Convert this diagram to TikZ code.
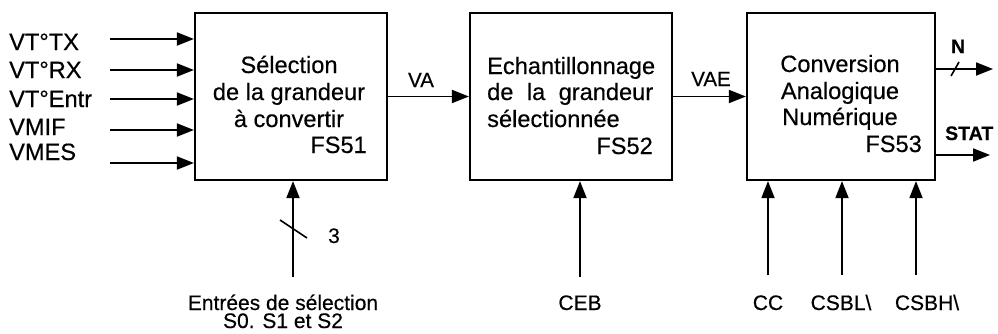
\documentclass[tikz,border=0pt]{standalone}
\usepackage{fontspec}
\setmainfont{Liberation Sans}[FakeBold=0.4]
\usetikzlibrary{arrows.meta}
\begin{document}
\begin{tikzpicture}[x=1pt,y=-1pt,
  blk/.style={draw,line width=2.2pt,minimum width=#1,minimum height=167pt,inner sep=0pt},
  arr/.style={line width=1.8pt,-{Triangle[length=17pt,width=13pt]}},
  slash/.style={line width=1.6pt},
  big/.style={font=\fontsize{23.6}{27}\selectfont,inner sep=0pt},
  sig/.style={font=\fontsize{20.5}{24}\selectfont,inner sep=0pt},
  lab/.style={font=\fontsize{21}{18}\selectfont,inner sep=0pt},
  bsig/.style={font=\fontsize{19.5}{23}\selectfont\bfseries,inner sep=0pt}]
\useasboundingbox (0,0) rectangle (998,333);
% boxes
\node[blk=192pt] (b1) at (291,96.5) {};
\node[blk=202pt] (b2) at (571,96.5) {};
\node[blk=188pt] (b3) at (841,96.5) {};
% box 1 text
\node[big,anchor=base] (t11) at (289,73) {Sélection};
\node[big,anchor=base] (t12) at (289,100) {de la grandeur};
\node[big,anchor=base] (t13) at (289,127) {à convertir};
\node[big,anchor=base east] (t14) at (367,153) {FS51};
% box 2 text
\node[big,anchor=base west] (t21) at (487,74) {Echantillonnage};
\node[big,anchor=base west] (t22) at (487,100) {\makebox[166pt][s]{de la grandeur}};
\node[big,anchor=base west] (t23) at (487,127) {sélectionnée};
\node[big,anchor=base east] (t24) at (653,154) {FS52};
% box 3 text
\node[big,anchor=base] (t31) at (840,72) {Conversion};
\node[big,anchor=base] (t32) at (840,99) {Analogique};
\node[big,anchor=base] (t33) at (840,125) {Numérique};
\node[big,anchor=base east] (t34) at (922,152) {FS53};
% inputs
\node[big,anchor=base west] (l1) at (9,50) {VT°TX};
\node[big,anchor=base west] (l2) at (9,78) {VT°RX};
\node[big,anchor=base west] (l3) at (9,107) {VT°Entr};
\node[big,anchor=base west] (l4) at (9,135) {VMIF};
\node[big,anchor=base west] (l5) at (9,160) {VMES};
\coordinate (i1) at (110,39);
\coordinate (i2) at (110,70);
\coordinate (i3) at (110,99);
\coordinate (i4) at (110,130);
\coordinate (i5) at (110,163);
\foreach \i in {1,...,5} \draw[arr] (i\i) -- (b1.west |- i\i);
% links
\draw[arr] (b1.east) -- (b2.west);
\draw[arr] (b2.east) -- (b3.west);
\node[sig,anchor=base] (va) at (421,87) {VA};
\node[sig,anchor=base] (vae) at (711,86) {VAE};
% outputs
\coordinate (on) at (993,69);
\coordinate (os) at (990,155);
\draw[arr] (b3.east |- on) -- (on);
\draw[arr] (b3.east |- os) -- (os);
\draw[slash] (951,76) -- (959,62);
\node[bsig,anchor=base] (n) at (958,53) {N};
\node[bsig,anchor=base west] (stat) at (945,140) {STAT};
% bottom inputs
\coordinate (s1) at (293,277);
\coordinate (s2) at (580,277);
\coordinate (s3) at (768,275);
\coordinate (s4) at (842,275);
\coordinate (s5) at (916,275);
\draw[arr] (s1) -- (b1.south -| s1);
\draw[arr] (s2) -- (b2.south -| s2);
\draw[arr] (s3) -- (b3.south -| s3);
\draw[arr] (s4) -- (b3.south -| s4);
\draw[arr] (s5) -- (b3.south -| s5);
\draw[slash] (280,220) -- (307,238);
\node[lab,anchor=base] (three) at (334,243) {3};
\node[lab,anchor=base,align=center] (e1) at (283,328) {Entrées de sélection\\S0. S1 et S2};
\node[lab,anchor=base] (ceb) at (580,310) {CEB};
\node[lab,anchor=base] (cc) at (768,310) {CC};
\node[lab,anchor=base] (csbl) at (841,310) {CSBL\textbackslash};
\node[lab,anchor=base] (csbh) at (927,310) {CSBH\textbackslash};
\end{tikzpicture}
\end{document}
